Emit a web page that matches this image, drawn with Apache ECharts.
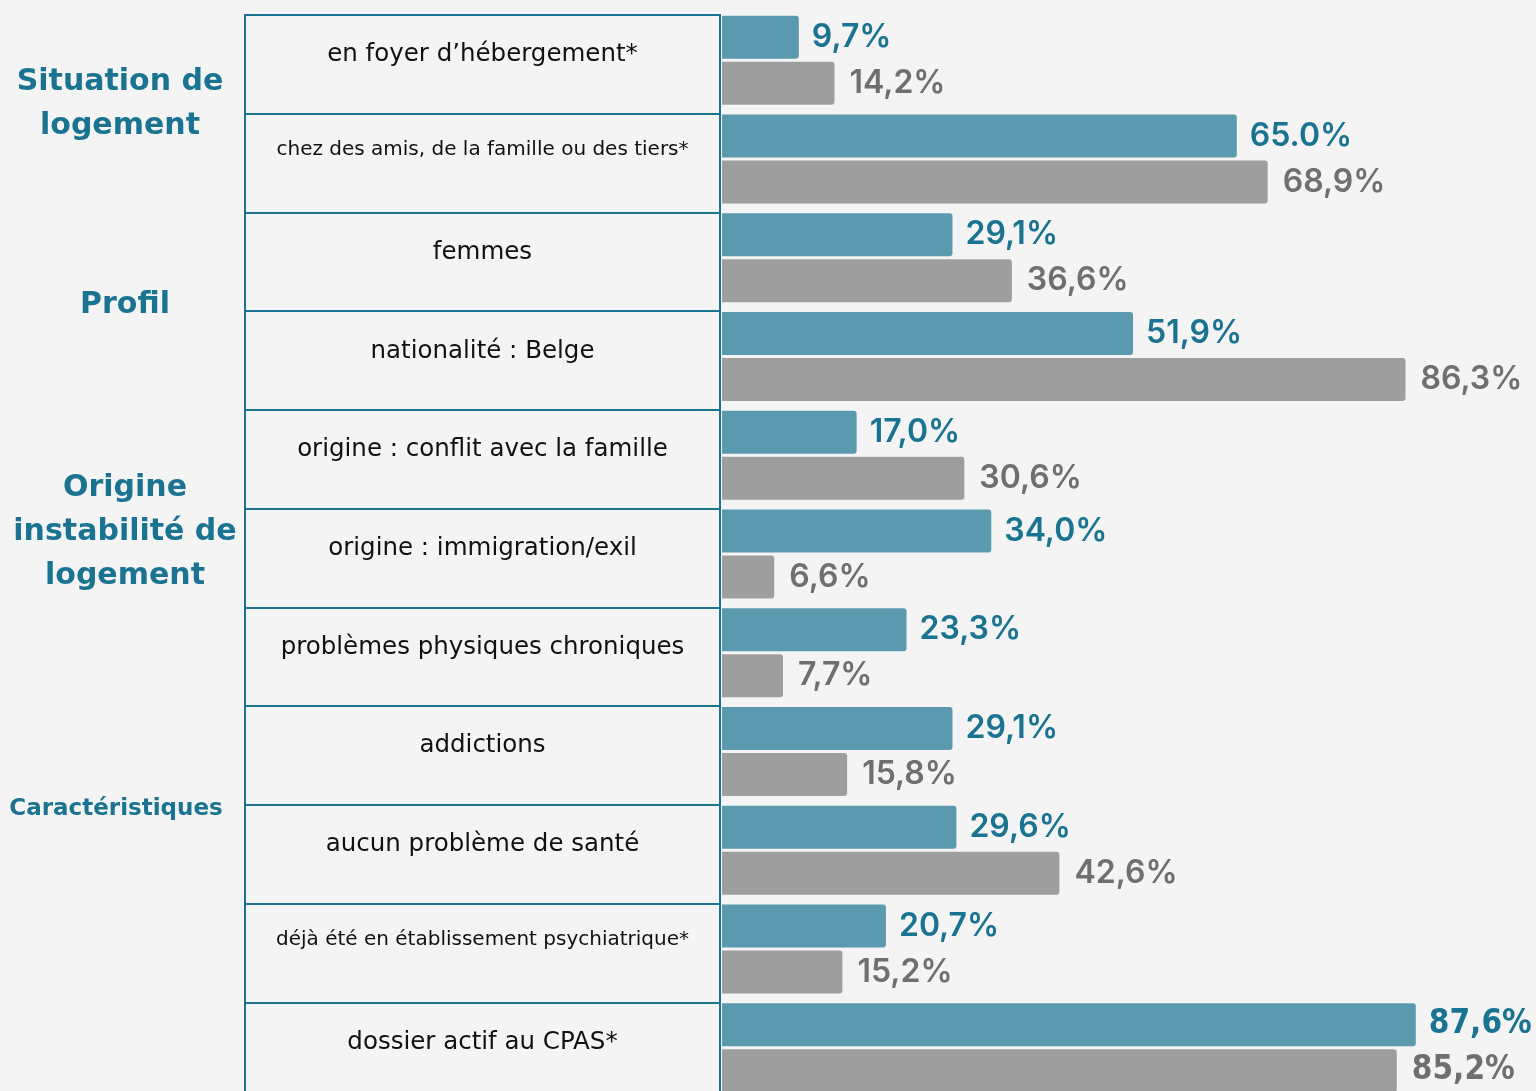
<!DOCTYPE html>
<html>
<head>
<meta charset="utf-8">
<script src="https://cdn.jsdelivr.net/npm/echarts@6/dist/echarts.min.js"></script>
<style>
  html, body { margin: 0; padding: 0; background: #f4f4f4; }
  #chart { width: 1536px; height: 1091px; }
</style>
</head>
<body>
<div id="chart"></div>
<script>
var categories = [
  'en foyer d\u2019hébergement*',
  'chez des amis, de la famille ou des tiers*',
  'femmes',
  'nationalité : Belge',
  'origine : conflit avec la famille',
  'origine : immigration/exil',
  'problèmes physiques chroniques',
  'addictions',
  'aucun problème de santé',
  'déjà été en établissement psychiatrique*',
  'dossier actif au CPAS*'
];
var valuesTeal = [9.7, 65.0, 29.1, 51.9, 17.0, 34.0, 23.3, 29.1, 29.6, 20.7, 87.6];
var valuesGray = [14.2, 68.9, 36.6, 86.3, 30.6, 6.6, 7.7, 15.8, 42.6, 15.2, 85.2];
var labelsTeal = ['9,7%', '65.0%', '29,1%', '51,9%', '17,0%', '34,0%', '23,3%', '29,1%', '29,6%', '20,7%', '87,6%'];
var labelsGray = ['14,2%', '68,9%', '36,6%', '86,3%', '30,6%', '6,6%', '7,7%', '15,8%', '42,6%', '15,2%', '85,2%'];
var smallRows = [1, 9];

var groupTitles = [
  { text: 'Situation de\nlogement', x: 120, y: 104, size: 30 },
  { text: 'Profil', x: 125, y: 305, size: 30 },
  { text: 'Origine\ninstabilité de\nlogement', x: 125, y: 532, size: 30 },
  { text: 'Caractéristiques', x: 116, y: 809, size: 23 }
];

var teal = '#1a7391';
var narrow = "'Liberation Sans Narrow', 'DejaVu Sans Condensed', sans-serif";

function barData(values, lastIdx) {
  return values.map(function (v, i) {
    if (i === lastIdx) {
      return { value: v, label: { fontFamily: narrow, fontWeight: 'bold', fontSize: 33 } };
    }
    return v;
  });
}

var chartDom = document.getElementById('chart');
var myChart = echarts.init(chartDom);
var option;

option = {
  backgroundColor: '#f4f4f4',
  animation: false,
  graphic: groupTitles.map(function (t) {
    return {
      type: 'text',
      x: t.x,
      y: t.y,
      style: {
        text: t.text,
        align: 'center',
        verticalAlign: 'middle',
        fill: teal,
        fontFamily: 'DejaVu Sans',
        fontWeight: 'bold',
        fontSize: t.size,
        lineHeight: 44
      }
    };
  }),
  grid: [
    { left: 722, top: 11, width: 792, height: 1086, outerBoundsMode: 'none' },
    {
      left: 245, top: 15, width: 475, height: 1086, outerBoundsMode: 'none',
      show: true, borderColor: teal, borderWidth: 2, backgroundColor: 'rgba(0,0,0,0)'
    }
  ],
  xAxis: [
    { type: 'value', min: 0, max: 100, show: false, gridIndex: 0 },
    { type: 'value', min: 0, max: 1, show: false, gridIndex: 1 }
  ],
  yAxis: [
    { type: 'category', data: categories, inverse: true, show: false, gridIndex: 0 },
    {
      type: 'category', data: categories, inverse: true, gridIndex: 1,
      axisLine: { show: false }, axisTick: { show: false }, axisLabel: { show: false },
      splitLine: { show: true, lineStyle: { color: teal, width: 2 } }
    }
  ],
  series: [
    {
      type: 'bar',
      xAxisIndex: 0,
      yAxisIndex: 0,
      data: barData(valuesTeal, 10),
      barWidth: 43,
      barGap: '7%',
      itemStyle: { color: '#5b9aae', borderRadius: [0, 3, 3, 0] },
      label: {
        show: true,
        position: 'right',
        distance: 13,
        color: teal,
        fontFamily: 'Inter',
        fontWeight: 600,
        fontSize: 32,
        formatter: function (p) { return labelsTeal[p.dataIndex]; }
      }
    },
    {
      type: 'bar',
      xAxisIndex: 0,
      yAxisIndex: 0,
      data: barData(valuesGray, 10),
      barWidth: 43,
      itemStyle: { color: '#9e9e9e', borderRadius: [0, 3, 3, 0] },
      label: {
        show: true,
        position: 'right',
        distance: 15,
        color: '#6f6f6f',
        fontFamily: 'Inter',
        fontWeight: 600,
        fontSize: 32,
        formatter: function (p) { return labelsGray[p.dataIndex]; }
      }
    },
    {
      // invisible rows of the left table, carrying the row labels
      type: 'bar',
      xAxisIndex: 1,
      yAxisIndex: 1,
      silent: true,
      barWidth: '100%',
      data: categories.map(function (c, i) {
        var small = smallRows.indexOf(i) >= 0;
        return { value: 1, label: { fontSize: small ? 20 : 24.5, position: ['50%', small ? 36 : 40] } };
      }),
      itemStyle: { color: 'rgba(0,0,0,0)' },
      label: {
        show: true,
        align: 'center',
        verticalAlign: 'middle',
        color: '#111',
        fontFamily: 'DejaVu Sans',
        formatter: '{b}'
      }
    }
  ]
};

option && myChart.setOption(option);
</script>
</body>
</html>
